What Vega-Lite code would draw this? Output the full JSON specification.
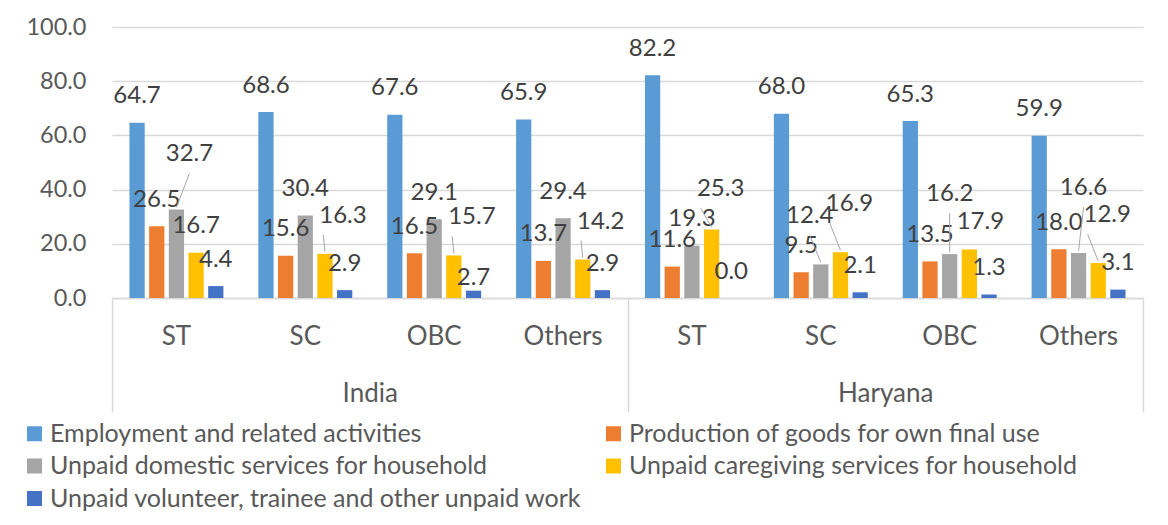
{
  "$schema": "https://vega.github.io/schema/vega-lite/v6.json",
  "width": 1031,
  "height": 271,
  "autosize": {"type": "none"},
  "padding": {"left": 112, "top": 27, "right": 25, "bottom": 227},
  "background": "white",
  "config": {
    "view": {"stroke": null},
    "font": "Lato",
    "text": {"font": "Lato", "fontSize": 24, "color": "#404040", "baseline": "middle"},
    "rule": {"color": "#a6a6a6", "strokeWidth": 1}
  },
  "data": {
    "values": [
      {"region": "India", "caste": "ST", "group": "India|ST", "series": "Employment and related activities", "value": 64.7},
      {"region": "India", "caste": "ST", "group": "India|ST", "series": "Production of goods for own final use", "value": 26.5},
      {"region": "India", "caste": "ST", "group": "India|ST", "series": "Unpaid domestic services for household", "value": 32.7},
      {"region": "India", "caste": "ST", "group": "India|ST", "series": "Unpaid caregiving services for household", "value": 16.7},
      {"region": "India", "caste": "ST", "group": "India|ST", "series": "Unpaid volunteer, trainee and other unpaid work", "value": 4.4},
      {"region": "India", "caste": "SC", "group": "India|SC", "series": "Employment and related activities", "value": 68.6},
      {"region": "India", "caste": "SC", "group": "India|SC", "series": "Production of goods for own final use", "value": 15.6},
      {"region": "India", "caste": "SC", "group": "India|SC", "series": "Unpaid domestic services for household", "value": 30.4},
      {"region": "India", "caste": "SC", "group": "India|SC", "series": "Unpaid caregiving services for household", "value": 16.3},
      {"region": "India", "caste": "SC", "group": "India|SC", "series": "Unpaid volunteer, trainee and other unpaid work", "value": 2.9},
      {"region": "India", "caste": "OBC", "group": "India|OBC", "series": "Employment and related activities", "value": 67.6},
      {"region": "India", "caste": "OBC", "group": "India|OBC", "series": "Production of goods for own final use", "value": 16.5},
      {"region": "India", "caste": "OBC", "group": "India|OBC", "series": "Unpaid domestic services for household", "value": 29.1},
      {"region": "India", "caste": "OBC", "group": "India|OBC", "series": "Unpaid caregiving services for household", "value": 15.7},
      {"region": "India", "caste": "OBC", "group": "India|OBC", "series": "Unpaid volunteer, trainee and other unpaid work", "value": 2.7},
      {"region": "India", "caste": "Others", "group": "India|Others", "series": "Employment and related activities", "value": 65.9},
      {"region": "India", "caste": "Others", "group": "India|Others", "series": "Production of goods for own final use", "value": 13.7},
      {"region": "India", "caste": "Others", "group": "India|Others", "series": "Unpaid domestic services for household", "value": 29.4},
      {"region": "India", "caste": "Others", "group": "India|Others", "series": "Unpaid caregiving services for household", "value": 14.2},
      {"region": "India", "caste": "Others", "group": "India|Others", "series": "Unpaid volunteer, trainee and other unpaid work", "value": 2.9},
      {"region": "Haryana", "caste": "ST", "group": "Haryana|ST", "series": "Employment and related activities", "value": 82.2},
      {"region": "Haryana", "caste": "ST", "group": "Haryana|ST", "series": "Production of goods for own final use", "value": 11.6},
      {"region": "Haryana", "caste": "ST", "group": "Haryana|ST", "series": "Unpaid domestic services for household", "value": 19.3},
      {"region": "Haryana", "caste": "ST", "group": "Haryana|ST", "series": "Unpaid caregiving services for household", "value": 25.3},
      {"region": "Haryana", "caste": "ST", "group": "Haryana|ST", "series": "Unpaid volunteer, trainee and other unpaid work", "value": 0.0},
      {"region": "Haryana", "caste": "SC", "group": "Haryana|SC", "series": "Employment and related activities", "value": 68.0},
      {"region": "Haryana", "caste": "SC", "group": "Haryana|SC", "series": "Production of goods for own final use", "value": 9.5},
      {"region": "Haryana", "caste": "SC", "group": "Haryana|SC", "series": "Unpaid domestic services for household", "value": 12.4},
      {"region": "Haryana", "caste": "SC", "group": "Haryana|SC", "series": "Unpaid caregiving services for household", "value": 16.9},
      {"region": "Haryana", "caste": "SC", "group": "Haryana|SC", "series": "Unpaid volunteer, trainee and other unpaid work", "value": 2.1},
      {"region": "Haryana", "caste": "OBC", "group": "Haryana|OBC", "series": "Employment and related activities", "value": 65.3},
      {"region": "Haryana", "caste": "OBC", "group": "Haryana|OBC", "series": "Production of goods for own final use", "value": 13.5},
      {"region": "Haryana", "caste": "OBC", "group": "Haryana|OBC", "series": "Unpaid domestic services for household", "value": 16.2},
      {"region": "Haryana", "caste": "OBC", "group": "Haryana|OBC", "series": "Unpaid caregiving services for household", "value": 17.9},
      {"region": "Haryana", "caste": "OBC", "group": "Haryana|OBC", "series": "Unpaid volunteer, trainee and other unpaid work", "value": 1.3},
      {"region": "Haryana", "caste": "Others", "group": "Haryana|Others", "series": "Employment and related activities", "value": 59.9},
      {"region": "Haryana", "caste": "Others", "group": "Haryana|Others", "series": "Production of goods for own final use", "value": 18.0},
      {"region": "Haryana", "caste": "Others", "group": "Haryana|Others", "series": "Unpaid domestic services for household", "value": 16.6},
      {"region": "Haryana", "caste": "Others", "group": "Haryana|Others", "series": "Unpaid caregiving services for household", "value": 12.9},
      {"region": "Haryana", "caste": "Others", "group": "Haryana|Others", "series": "Unpaid volunteer, trainee and other unpaid work", "value": 3.1}
    ]
  },
  "layer": [
    {
      "encoding": {
        "x": {
          "field": "group",
          "type": "nominal",
          "sort": null,
          "scale": {
            "domain": ["India|ST", "India|SC", "India|OBC", "India|Others", "Haryana|ST", "Haryana|SC", "Haryana|OBC", "Haryana|Others"],
            "paddingInner": 0.271,
            "paddingOuter": 0.1355
          },
          "axis": {
            "title": null,
            "orient": "bottom",
            "labelExpr": "split(datum.value, '|')[1]",
            "domain": true,
            "domainColor": "#d9d9d9",
            "domainWidth": 1.5,
            "ticks": false,
            "grid": false,
            "labelFont": "Lato",
            "labelFontSize": 26,
            "labelColor": "#595959",
            "labelPadding": 25,
            "labelAngle": 0
          }
        },
        "xOffset": {
          "field": "series",
          "type": "nominal",
          "scale": {
            "domain": ["Employment and related activities", "Production of goods for own final use", "Unpaid domestic services for household", "Unpaid caregiving services for household", "Unpaid volunteer, trainee and other unpaid work"],
            "paddingInner": 0.225,
            "paddingOuter": 0
          }
        },
        "y": {
          "field": "value",
          "type": "quantitative",
          "scale": {"domain": [0, 100], "nice": false},
          "axis": {
            "title": null,
            "values": [0, 20, 40, 60, 80, 100],
            "format": ".1f",
            "domain": false,
            "ticks": false,
            "grid": true,
            "gridColor": "#d9d9d9",
            "gridWidth": 1.5,
            "labelFont": "Lato",
            "labelFontSize": 23.5,
            "labelColor": "#595959",
            "labelPadding": 26
          }
        }
      },
      "layer": [
        {
          "mark": {"type": "bar"},
          "encoding": {
            "color": {
              "field": "series",
              "type": "nominal",
              "scale": {
                "domain": ["Employment and related activities", "Production of goods for own final use", "Unpaid domestic services for household", "Unpaid caregiving services for household", "Unpaid volunteer, trainee and other unpaid work"],
                "range": ["#5B9BD5", "#ED7D31", "#A5A5A5", "#FFC000", "#4472C4"]
              },
              "legend": {
                "title": null,
                "orient": "none",
                "legendX": -90,
                "legendY": 394,
                "direction": "horizontal",
                "columns": 2,
                "columnPadding": 18,
                "rowPadding": 6.5,
                "padding": 0,
                "symbolType": "square",
                "symbolSize": 225,
                "symbolStrokeWidth": 0,
                "symbolOpacity": 1,
                "labelFont": "Lato",
                "labelFontSize": 25,
                "labelColor": "#595959",
                "labelOffset": 3,
                "labelLimit": 800
              }
            }
          }
        },
        {
          "transform": [{"filter": "!((datum.series == 'Unpaid domestic services for household' && (datum.group == 'India|ST' || datum.group == 'Haryana|SC' || datum.group == 'Haryana|OBC' || datum.group == 'Haryana|Others')) || (datum.series == 'Unpaid caregiving services for household' && datum.group != 'India|ST') || (datum.series == 'Unpaid volunteer, trainee and other unpaid work' && datum.group == 'India|OBC'))"}],
          "mark": {"type": "text", "dy": -26.5},
          "encoding": {"text": {"field": "value", "type": "quantitative", "format": ".1f"}}
        },
        {
          "transform": [{"filter": "datum.series == 'Unpaid domestic services for household' && datum.group == 'India|ST'"}],
          "mark": {"type": "text", "dx": 13, "dy": -55},
          "encoding": {"text": {"field": "value", "type": "quantitative", "format": ".1f"}}
        },
        {
          "transform": [{"filter": "datum.series == 'Unpaid domestic services for household' && datum.group == 'India|ST'"}],
          "mark": {"type": "rule", "yOffset": -2, "x2Offset": 13, "y2Offset": -36},
          "encoding": {"x2": {"field": "group"}, "y2": {"field": "value"}}
        },
        {
          "transform": [{"filter": "datum.series == 'Unpaid caregiving services for household' && (datum.group == 'India|SC' || datum.group == 'India|OBC' || datum.group == 'India|Others')"}],
          "mark": {"type": "text", "dx": 18, "dy": -38},
          "encoding": {"text": {"field": "value", "type": "quantitative", "format": ".1f"}}
        },
        {
          "transform": [{"filter": "datum.series == 'Unpaid caregiving services for household' && (datum.group == 'India|SC' || datum.group == 'India|OBC' || datum.group == 'India|Others')"}],
          "mark": {"type": "rule", "yOffset": -2, "x2Offset": 18, "y2Offset": -19},
          "encoding": {"x2": {"field": "group"}, "y2": {"field": "value"}}
        },
        {
          "transform": [{"filter": "datum.series == 'Unpaid caregiving services for household' && datum.group == 'Haryana|ST'"}],
          "mark": {"type": "text", "dx": 9, "dy": -40},
          "encoding": {"text": {"field": "value", "type": "quantitative", "format": ".1f"}}
        },
        {
          "transform": [{"filter": "datum.series == 'Unpaid caregiving services for household' && datum.group == 'Haryana|ST'"}],
          "mark": {"type": "rule", "yOffset": -2, "x2Offset": 9, "y2Offset": -21},
          "encoding": {"x2": {"field": "group"}, "y2": {"field": "value"}}
        },
        {
          "transform": [{"filter": "datum.series == 'Unpaid domestic services for household' && datum.group == 'Haryana|SC'"}],
          "mark": {"type": "text", "dx": -11, "dy": -48},
          "encoding": {"text": {"field": "value", "type": "quantitative", "format": ".1f"}}
        },
        {
          "transform": [{"filter": "datum.series == 'Unpaid domestic services for household' && datum.group == 'Haryana|SC'"}],
          "mark": {"type": "rule", "yOffset": -2, "x2Offset": -11, "y2Offset": -29},
          "encoding": {"x2": {"field": "group"}, "y2": {"field": "value"}}
        },
        {
          "transform": [{"filter": "datum.series == 'Unpaid caregiving services for household' && (datum.group == 'Haryana|SC' || datum.group == 'Haryana|Others')"}],
          "mark": {"type": "text", "dx": 9, "dy": -48},
          "encoding": {"text": {"field": "value", "type": "quantitative", "format": ".1f"}}
        },
        {
          "transform": [{"filter": "datum.series == 'Unpaid caregiving services for household' && (datum.group == 'Haryana|SC' || datum.group == 'Haryana|Others')"}],
          "mark": {"type": "rule", "yOffset": -2, "x2Offset": 9, "y2Offset": -29},
          "encoding": {"x2": {"field": "group"}, "y2": {"field": "value"}}
        },
        {
          "transform": [{"filter": "datum.series == 'Unpaid domestic services for household' && datum.group == 'Haryana|OBC'"}],
          "mark": {"type": "text", "dx": 0, "dy": -60},
          "encoding": {"text": {"field": "value", "type": "quantitative", "format": ".1f"}}
        },
        {
          "transform": [{"filter": "datum.series == 'Unpaid domestic services for household' && datum.group == 'Haryana|OBC'"}],
          "mark": {"type": "rule", "yOffset": -2, "x2Offset": 0, "y2Offset": -41},
          "encoding": {"x2": {"field": "group"}, "y2": {"field": "value"}}
        },
        {
          "transform": [{"filter": "datum.series == 'Unpaid domestic services for household' && datum.group == 'Haryana|Others'"}],
          "mark": {"type": "text", "dx": 5, "dy": -65},
          "encoding": {"text": {"field": "value", "type": "quantitative", "format": ".1f"}}
        },
        {
          "transform": [{"filter": "datum.series == 'Unpaid domestic services for household' && datum.group == 'Haryana|Others'"}],
          "mark": {"type": "rule", "yOffset": -2, "x2Offset": 5, "y2Offset": -46},
          "encoding": {"x2": {"field": "group"}, "y2": {"field": "value"}}
        },
        {
          "transform": [{"filter": "datum.series == 'Unpaid caregiving services for household' && datum.group == 'Haryana|OBC'"}],
          "mark": {"type": "text", "dx": 11, "dy": -27},
          "encoding": {"text": {"field": "value", "type": "quantitative", "format": ".1f"}}
        },
        {
          "transform": [{"filter": "datum.series == 'Unpaid volunteer, trainee and other unpaid work' && datum.group == 'India|OBC'"}],
          "mark": {"type": "text", "dx": 0, "dy": -13},
          "encoding": {"text": {"field": "value", "type": "quantitative", "format": ".1f"}}
        }
      ]
    },
    {
      "mark": {"type": "tick", "opacity": 0},
      "encoding": {
        "x": {
          "field": "region",
          "type": "nominal",
          "sort": null,
          "scale": {"domain": ["India", "Haryana"], "paddingInner": 0, "paddingOuter": 0},
          "axis": {
            "title": null,
            "orient": "bottom",
            "domain": false,
            "grid": false,
            "ticks": true,
            "tickBand": "extent",
            "tickSize": 114,
            "tickColor": "#d9d9d9",
            "tickWidth": 1.5,
            "labelFont": "Lato",
            "labelFontSize": 26,
            "labelColor": "#595959",
            "labelPadding": -32,
            "labelAngle": 0
          }
        }
      }
    }
  ],
  "resolve": {"scale": {"x": "independent"}}
}
